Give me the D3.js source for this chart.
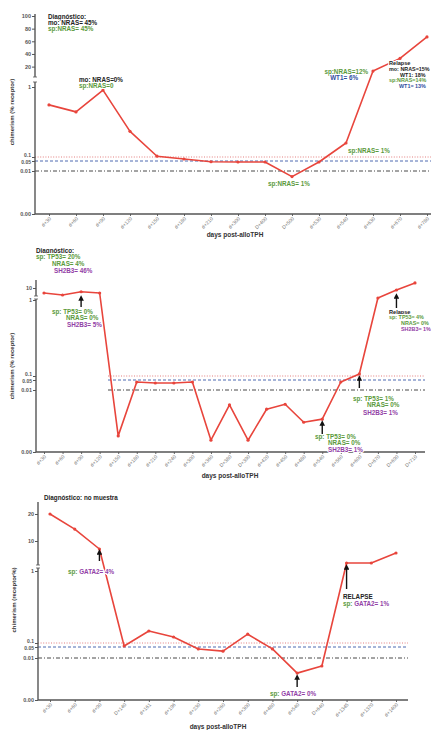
<!DOCTYPE html>
<html><head><meta charset="utf-8">
<script src="https://cdn.jsdelivr.net/npm/d3@7"></script>
<style>
body{margin:0;background:#fff}
svg{display:block}
text{font-family:"Liberation Sans",Arial,sans-serif}
</style>
</head><body>
<svg id="c" width="431" height="730"></svg>
<script>
// ---------- data ----------
const p1Labels = ["d+30","d+60","d+90","d+120","d+150","d+180","d+210","d+300","D+400","D+500","d+530","d+540","d+630","d+670","d+780"];
const p1Values = [0.77,0.68,0.96,0.43,0.11,0.075,0.047,0.046,0.046,0.0087,0.046,0.28,13,33,67];
const p1UpperTicks = [20,40,60,80,100];

const p2Labels = ["d+30","d+60","d+90","d+120","d+150","d+180","d+210","d+240","d+300","d+360","D+380","D+390","d+420","d+450","d+480","d+540","d+560","d+600","D+670","D+690","D+710"];
const p2Values = [6.25,4.75,7.2,6.25,0.0026,0.042,0.038,0.038,0.042,0.0019,0.0076,0.0019,0.0069,0.0077,0.0048,0.0053,0.042,0.124,2.5,8.5,14.2];
const p2UpperTicks = [10];

const p3Labels = ["d+30","d+60","d+90","D+140","d+161","d+196","d+230","d+260","d+300","d+480","d+540","D+640","d+1345","d+1370","d+1400"];
const p3Values = [20,14.4,7.6,0.0625,0.25,0.175,0.043,0.035,0.21,0.043,0.0064,0.0081,3.4,3.4,6.4];
const p3UpperTicks = [10,20];

const lowerTicks = [0,0.01,0.05,0.1,1];
const refLevels = [0.1,0.05,0.01];
const xTitle = "days post-alloTPH";

// ---------- styles ----------
const RED = "#e8453c", GREEN = "#5b9a3c", BLUE = "#2f4e9e", PURPLE = "#9240a6", BLACK = "#222";
const refStyle = {0.1:{c:"#e07070",d:"1,1.6"},0.05:{c:"#3a5aa8",d:"3,2"},0.01:{c:"#333",d:"4,2,1,2"}};

const svg = d3.select("#c");
const defs = svg.append("defs");
defs.append("marker").attr("id","ah").attr("viewBox","0 0 10 10").attr("refX",5).attr("refY",5)
  .attr("markerWidth",4).attr("markerHeight",4).attr("orient","auto-start-reverse")
  .append("path").attr("d","M0,0L10,5L0,10z").attr("fill","#111");

function fmt(v){ if(v===0) return "0.00"; if(v===0.01) return "0.01"; if(v===0.05) return "0.05"; return String(v); }

function txt(g, x, y, parts, anchor, size){
  const t = g.append("text").attr("x",x).attr("y",y).attr("font-size",size||6.3).attr("font-weight","bold")
    .attr("text-anchor",anchor||"start")
    .attr("stroke","#fff").attr("stroke-width",2.2).attr("paint-order","stroke").attr("stroke-linejoin","round");
  parts.forEach(p => t.append("tspan").attr("fill",p[1]).text(p[0]));
  return t;
}

function drawPanel(cfg){
  const g = svg.append("g");
  const x = d3.scalePoint().domain(cfg.labels).range(cfg.xRange);
  const y = d3.scaleLinear().domain(cfg.yDomain).range(cfg.yRange);
  const y0 = y(0);

  // reference lines
  refLevels.forEach(v => {
    g.append("line").attr("x1",cfg.refStart).attr("x2",cfg.xEnd).attr("y1",y(v)).attr("y2",y(v))
      .attr("stroke",refStyle[v].c).attr("stroke-width",0.9).attr("stroke-dasharray",refStyle[v].d);
  });

  // x axis
  const xa = g.append("g").attr("transform",`translate(0,${y0})`)
    .call(d3.axisBottom(x).tickSize(2).tickSizeOuter(0));
  xa.select(".domain").remove();
  xa.selectAll(".tick line").attr("stroke","#666");
  xa.selectAll(".tick text").attr("font-size",5).attr("fill","#777").attr("font-family","Liberation Sans, Arial")
    .attr("text-anchor","end").attr("dy",0).attr("y",0)
    .attr("transform","translate(2,5) rotate(-45)");
  g.append("line").attr("x1",cfg.axisX).attr("x2",cfg.xEnd).attr("y1",y0).attr("y2",y0)
    .attr("stroke","#555").attr("stroke-width",1.4);

  // y axis lower
  const ya = g.append("g").attr("transform",`translate(${cfg.axisX},0)`)
    .call(d3.axisLeft(y).tickValues(lowerTicks).tickFormat(fmt).tickSize(3));
  ya.select(".domain").remove();
  const yb = g.append("g").attr("transform",`translate(${cfg.axisX},0)`)
    .call(d3.axisLeft(y).tickValues(cfg.upperTicks).tickFormat(fmt).tickSize(3));
  yb.select(".domain").remove();
  [ya,yb].forEach(a=>{
    a.selectAll(".tick line").attr("stroke","#555");
    a.selectAll(".tick text").attr("font-size",5.5).attr("font-weight","bold").attr("fill","#555")
      .attr("font-family","Liberation Sans, Arial").attr("x",-4);
  });
  // nudge the crowded 0.1 / 0.05 labels apart
  ya.selectAll(".tick").filter(d=>d===0.1).select("text").attr("dy","-0.1em").attr("font-size",5);
  ya.selectAll(".tick").filter(d=>d===0.05).select("text").attr("dy","0.55em").attr("font-size",5);

  g.append("line").attr("x1",cfg.axisX).attr("x2",cfg.axisX).attr("y1",y0).attr("y2",cfg.lowerTop)
    .attr("stroke","#555").attr("stroke-width",1.4);
  g.append("line").attr("x1",cfg.axisX).attr("x2",cfg.axisX).attr("y1",cfg.upperBottom).attr("y2",cfg.upperTop)
    .attr("stroke","#555").attr("stroke-width",1.4);
  g.append("line").attr("x1",cfg.axisX-2).attr("x2",cfg.axisX+2).attr("y1",cfg.lowerTop).attr("y2",cfg.lowerTop)
    .attr("stroke","#555").attr("stroke-width",0.8);
  g.append("line").attr("x1",cfg.axisX-2).attr("x2",cfg.axisX+2).attr("y1",cfg.upperBottom).attr("y2",cfg.upperBottom)
    .attr("stroke","#555").attr("stroke-width",0.8);

  // data line
  const line = d3.line().x((d,i)=>x(cfg.labels[i])).y(d=>y(d));
  g.append("path").datum(cfg.values).attr("d",line).attr("fill","none")
    .attr("stroke",RED).attr("stroke-width",1.6).attr("stroke-linejoin","round");
  g.selectAll("circle.pt").data(cfg.values).enter().append("circle").attr("class","pt")
    .attr("cx",(d,i)=>x(cfg.labels[i])).attr("cy",d=>y(d)).attr("r",1.6).attr("fill",RED);

  // titles
  g.append("text").attr("x",cfg.xTitleX).attr("y",cfg.xTitleY).attr("text-anchor","middle")
    .attr("font-size",6.5).attr("font-weight","bold").attr("fill","#333").text(xTitle);
  g.append("text").attr("transform",`translate(${cfg.yTitleX},${cfg.yTitleY}) rotate(-90)`).attr("text-anchor","middle")
    .attr("font-size",6).attr("font-weight","bold").attr("fill","#333").text(cfg.yTitle);

  return {g,x,y};
}

function arrow(g, xp, yFrom, yTo){
  g.append("line").attr("x1",xp).attr("x2",xp).attr("y1",yFrom).attr("y2",yTo)
    .attr("stroke","#111").attr("stroke-width",1.4).attr("marker-end","url(#ah)");
}

// ---------- panel 1 ----------
const P1 = drawPanel({labels:p1Labels, values:p1Values, upperTicks:p1UpperTicks,
  xRange:[49,427], yDomain:[0,0.01,0.05,0.1,1,2,100], yRange:[214,171,161,157,87,78,16],
  axisX:35, xEnd:431, refStart:35, lowerTop:82, upperBottom:77, upperTop:14,
  xTitleX:235, xTitleY:237, yTitleX:14, yTitleY:112, yTitle:"chimerism (% receptor)"});
txt(P1.g,48,18.5,[["Diagnóstico:",BLACK]]);
txt(P1.g,48,24.5,[["mo: NRAS= 45%",BLACK]]);
txt(P1.g,48,30.5,[["sp:NRAS= 45%",GREEN]]);
txt(P1.g,79,81.5,[["mo: NRAS=0%",BLACK]]);
txt(P1.g,79,87.5,[["sp:NRAS=0",GREEN]]);
txt(P1.g,368,73.5,[["sp:NRAS=12%",GREEN]],"end");
txt(P1.g,358,80,[["WT1= 6%",BLUE]],"end");
txt(P1.g,389,65,[["Relapse",BLACK]],"start",5.6);
txt(P1.g,389,71,[["mo: NRAS=15%",BLACK]],"start",5.4);
txt(P1.g,400,76.5,[["WT1: 18%",BLACK]],"start",5.4);
txt(P1.g,389,82,[["sp:NRAS=14%",GREEN]],"start",5.4);
txt(P1.g,399,87.5,[["WT1= 13%",BLUE]],"start",5.4);
txt(P1.g,348,153,[["sp:NRAS= 1%",GREEN]]);
txt(P1.g,268,185.5,[["sp:NRAS= 1%",GREEN]]);

// ---------- panel 2 ----------
const P2 = drawPanel({labels:p2Labels, values:p2Values, upperTicks:p2UpperTicks,
  xRange:[44,415], yDomain:[0,0.01,0.05,0.1,1,10,15], yRange:[452,390,380,376,300,288,282],
  axisX:36, xEnd:425, refStart:108, lowerTop:299, upperBottom:296, upperTop:280,
  xTitleX:230, xTitleY:478, yTitleX:14, yTitleY:366, yTitle:"chimerism (% receptor)"});
txt(P2.g,36,253,[["Diagnóstico:",BLACK]]);
txt(P2.g,36,259,[["sp: TP53= 20%",GREEN]]);
txt(P2.g,52,266,[["NRAS= 4%",GREEN]]);
txt(P2.g,54,273,[["SH2B3= 46%",PURPLE]]);
arrow(P2.g,P2.x(p2Labels[2]),307,298);
txt(P2.g,52,314,[["sp: TP53= 0%",GREEN]]);
txt(P2.g,66,320,[["NRAS= 0%",GREEN]]);
txt(P2.g,67,326.5,[["SH2B3= 5%",PURPLE]]);
arrow(P2.g,P2.x(p2Labels[19]),308,296);
txt(P2.g,389,313.5,[["Relapse",BLACK]],"start",5.6);
txt(P2.g,389,319,[["sp: TP53= 4%",GREEN]],"start",5.4);
txt(P2.g,401,325,[["NRAS= 0%",GREEN]],"start",5.4);
txt(P2.g,401,331,[["SH2B3= 1%",PURPLE]],"start",5.4);
arrow(P2.g,P2.x(p2Labels[17]),388,378);
txt(P2.g,353,400.5,[["sp: TP53= 1%",GREEN]]);
txt(P2.g,367,407,[["NRAS= 0%",GREEN]]);
txt(P2.g,363,414.5,[["SH2B3= 1%",PURPLE]]);
arrow(P2.g,P2.x(p2Labels[15]),434,423);
txt(P2.g,315,439,[["sp: TP53= 0%",GREEN]]);
txt(P2.g,328,445,[["NRAS= 0%",GREEN]]);
txt(P2.g,328,451.5,[["SH2B3= 1%",PURPLE]]);

// ---------- panel 3 ----------
const P3 = drawPanel({labels:p3Labels, values:p3Values, upperTicks:p3UpperTicks,
  xRange:[50,396], yDomain:[0,0.01,0.05,0.1,1,10,20,25], yRange:[700,658,647,643,571,541,514,500],
  axisX:38, xEnd:408, refStart:38, lowerTop:568, upperBottom:565, upperTop:502,
  xTitleX:218, xTitleY:729, yTitleX:16, yTitleY:600, yTitle:"chimerism (receptor%)"});
txt(P3.g,44,500,[["Diagnóstico: no muestra",BLACK]]);
arrow(P3.g,P3.x(p3Labels[2]),561,552);
txt(P3.g,68,574,[["sp: ",GREEN],["GATA2= 4%",PURPLE]]);
arrow(P3.g,P3.x(p3Labels[12]),589,567);
txt(P3.g,343,599,[["RELAPSE",BLACK]]);
txt(P3.g,343,605.5,[["sp: ",GREEN],["GATA2= 1%",PURPLE]]);
arrow(P3.g,P3.x(p3Labels[10]),687,677);
txt(P3.g,270,696,[["sp: ",GREEN],["GATA2= 0%",PURPLE]]);
</script>
</body></html>
